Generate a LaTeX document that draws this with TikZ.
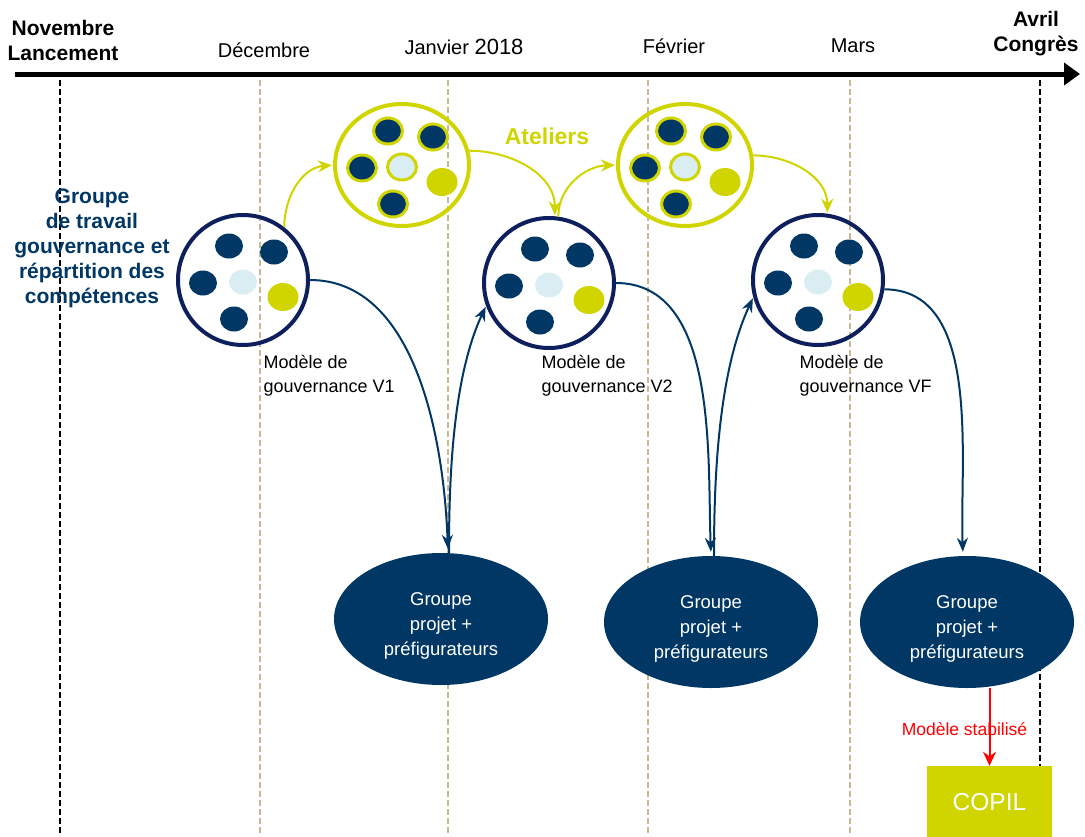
\documentclass[tikz,border=0pt]{standalone}
\usepackage{fontspec}
\setmainfont{Liberation Sans}
\usetikzlibrary{shapes.geometric,arrows.meta}

\definecolor{navy}{HTML}{003764}
\definecolor{ring}{HTML}{0E1F5E}
\definecolor{lime}{HTML}{D0D500}
\definecolor{pale}{HTML}{DAEDF3}
\definecolor{tan}{HTML}{C8B994}

% one group of six participants around a centre
\newcommand{\grappe}[3]{%
  \begin{scope}[shift={(#1)}]
    \foreach \dx/\dy in {-14/-34, 31/-28, -40/3, -9/39}
      \node[#2] at (\dx,\dy) {};
    \node[#3] at (0,2) {};
    \node[yel] at (40,17) {};
  \end{scope}}

\begin{document}
\begin{tikzpicture}[x=1pt,y=-1pt,>={Stealth[length=14pt,width=11pt]},
    month/.style={font=\fontsize{20}{24}\selectfont},
    keymonth/.style={font=\bfseries\fontsize{21}{25}\selectfont,align=center},
    grp/.style={circle,draw=ring,line width=4pt,minimum size=130pt,inner sep=0pt},
    atel/.style={ellipse,draw=lime,line width=4pt,minimum width=134pt,minimum height=122pt,inner sep=0pt},
    proj/.style={ellipse,fill=navy,minimum width=214pt,minimum height=132pt},
    projtxt/.style={text=white,align=center,font=\fontsize{18.5}{25}\selectfont},
    dot/.style={ellipse,fill=navy,minimum width=28pt,minimum height=25pt,inner sep=0pt},
    ldot/.style={dot,fill=pale},
    yel/.style={dot,fill=lime,minimum width=31pt,minimum height=28pt},
    adot/.style={dot,draw=lime,line width=3pt,minimum width=29pt,minimum height=26pt},
    aldot/.style={adot,fill=pale},
    model/.style={anchor=north west,align=left,font=\fontsize{18}{24}\selectfont},
    navarr/.style={->,draw=navy,line width=2pt,shorten >=1pt},
    limearr/.style={-{Stealth[length=14pt,width=12pt]},draw=lime,line width=2pt,shorten >=1pt},
    tandash/.style={draw=tan,line width=2pt,dash pattern=on 6pt off 3pt},
    blkdash/.style={draw=black,line width=2pt,dash pattern=on 6pt off 3pt}]

  \useasboundingbox (0,0) rectangle (1085,836);

  % month separators
  \foreach \mx in {260,448,648,850}
    \draw[tandash] (\mx,80) -- (\mx,836);
  \draw[blkdash] (60,80) -- (60,836);
  \draw[blkdash] (1040,80) -- (1040,770);

  % timeline
  \draw[line width=5pt,-{Triangle[length=16pt,width=22pt]}] (15,74) -- (1080,74);
  \node[keymonth] (nov) at (63,40) {Novembre\\Lancement};
  \node[month] (dec) at (264,50) {Décembre};
  \node[month] (jan) at (464,47) {Janvier \fontsize{22}{24}\selectfont 2018};
  \node[month] (fev) at (674,46) {Février};
  \node[month] (mar) at (853,46) {Mars};
  \node[keymonth] (avr) at (1036,34) {Avril\\Congrès};

  \node[text=navy,font=\bfseries\fontsize{21}{25}\selectfont,align=center] (gt) at (92,248)
    {Groupe\\de travail\\gouvernance et\\répartition des\\compétences};

  % groupes de travail
  \node[grp] (g1) at (243,280) {};
  \node[grp] (g2) at (549,283) {};
  \node[grp] (g3) at (818,280) {};
  \grappe{g1}{dot}{ldot}
  \grappe{g2}{dot}{ldot}
  \grappe{g3}{dot}{ldot}

  % ateliers
  \node[atel] (a1) at (402,165) {};
  \node[atel] (a2) at (685,165) {};
  \grappe{a1}{adot}{aldot}
  \grappe{a2}{adot}{aldot}
  \node[text=lime,font=\bfseries\fontsize{23}{26}\selectfont] (at) at (547,136) {Ateliers};

  \node[model] (m1) at (260,352) {Modèle de\\gouvernance V1};
  \node[model] (m2) at (538,352) {Modèle de\\gouvernance V2};
  \node[model] (m3) at (796,352) {Modèle de\\gouvernance VF};

  % groupe projet
  \node[proj] (e1) at (441,619) {};
  \node[proj] (e2) at (711,622) {};
  \node[proj] (e3) at (967,622) {};
  \foreach \e in {e1,e2,e3}
    \node[projtxt] (t\e) at ([yshift=-7pt]\e.center) {Groupe\\projet +\\préfigurateurs};

  \node[fill=lime,text=white,minimum width=125pt,minimum height=72pt,
        font=\fontsize{24.5}{28}\selectfont] (copil) at (989.5,802) {COPIL};

  % allers-retours
  \draw[navarr,shorten >=4pt] (g1.east) to[out=0,in=92,looseness=0.9] ([xshift=7pt]e1.north);
  \draw[navarr] ([xshift=8pt]e1.north) to[out=90,in=245,looseness=0.8] (g2.200);
  \draw[navarr,shorten >=4pt] (g2.east) to[out=0,in=92,looseness=0.9] (e2.north);
  \draw[navarr] ([xshift=3pt]e2.north) to[out=90,in=245,looseness=0.8] (g3.195);
  \draw[navarr,shorten >=4pt] (g3.352) to[out=0,in=92,looseness=0.9] ([xshift=-4pt]e3.north);

  \draw[limearr] (g1.52) to[out=90,in=185] (a1.west);
  \draw[limearr] (a1.12) to[out=0,in=90] (g2.85);
  \draw[limearr] (g2.82) to[out=90,in=182] (a2.west);
  \draw[limearr] (a2.8) to[out=0,in=90] (g3.82);

  \draw[-{Stealth[length=14pt,width=13pt]},red,line width=2pt] (e3.south -| copil.north) -- (copil.north)
    node[midway,xshift=-25pt,yshift=-2pt,text=red,font=\fontsize{17.5}{20}\selectfont] {Modèle stabilisé};
\end{tikzpicture}
\end{document}
